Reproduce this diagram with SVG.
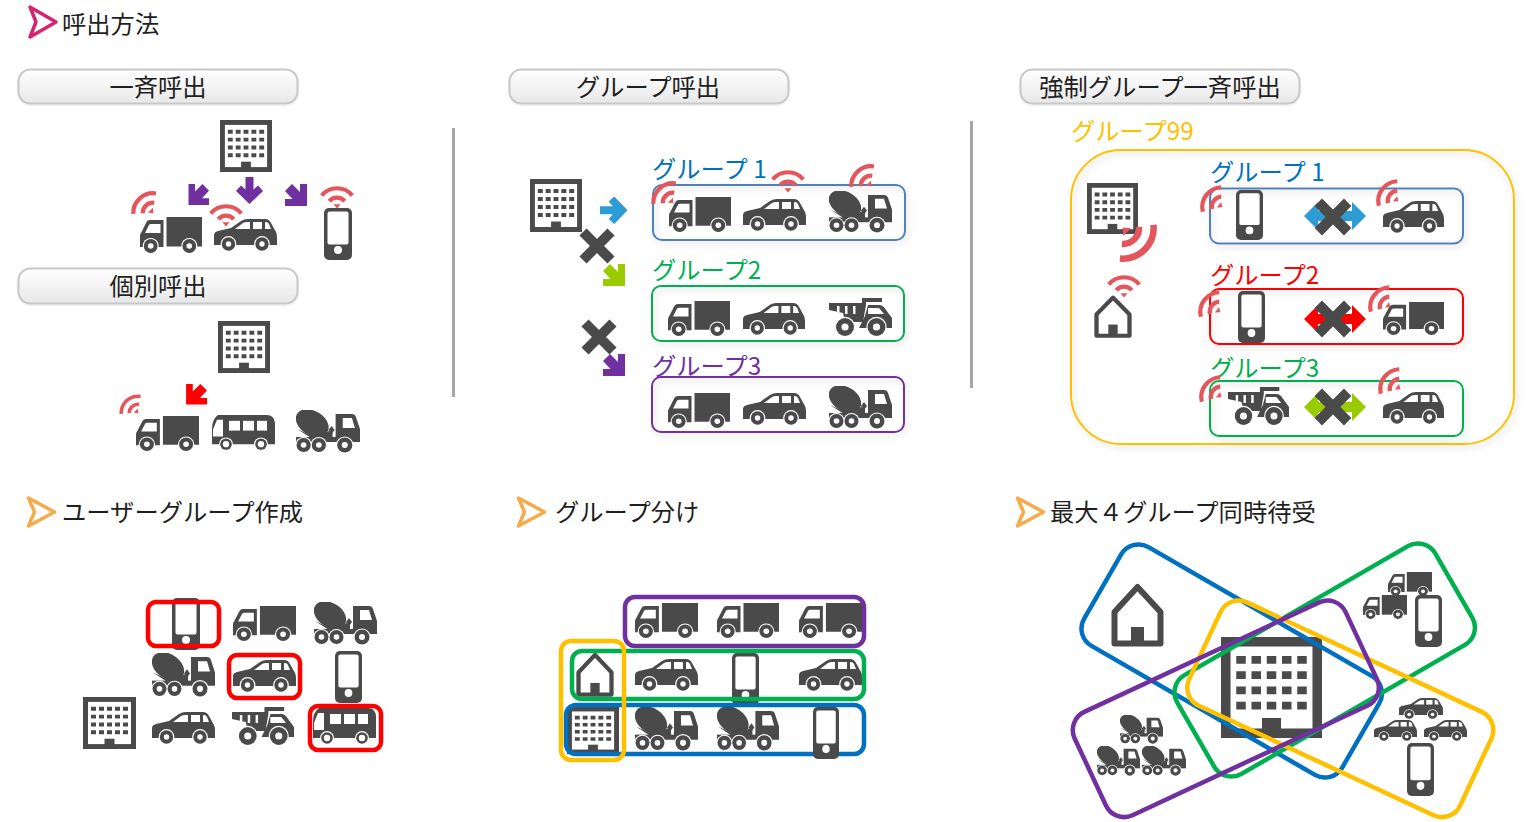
<svg xmlns="http://www.w3.org/2000/svg" width="1526" height="822" viewBox="0 0 1526 822">
<style>
text{font-family:"Noto Sans CJK JP","Noto Sans",sans-serif;font-size:24.3px;fill:#1f1f1f}
.d{fill:#4a4a4a}.w{fill:#fff}
.pill{fill:url(#pg);stroke:#c8c8c8;stroke-width:2;filter:url(#ps)}
.g{fill:none;stroke-width:2;filter:url(#sh)}
.t{fill:none;stroke-width:4.500}
.sep{stroke:#a6a6a6;stroke-width:3}
.chev{fill:none;stroke-width:3.500;stroke-linejoin:round}
.rf{fill:none;stroke:#e4565b;stroke-width:4.200}
.xx{stroke:#4a4a4a;stroke-width:10}
</style>
<defs>
<linearGradient id="pg" x1="0" y1="0" x2="0" y2="1"><stop offset="0" stop-color="#fff"/><stop offset="1" stop-color="#e8e8e8"/></linearGradient>
<filter id="sh" x="-10%" y="-20%" width="120%" height="150%"><feDropShadow dx="2" dy="3" stdDeviation="3" flood-color="#000" flood-opacity=".16"/></filter>
<filter id="ps" x="-5%" y="-20%" width="110%" height="150%"><feDropShadow dx="0" dy="1" stdDeviation="1" flood-color="#000" flood-opacity=".1"/></filter>
<symbol id="truck" viewBox="0 0 62 36" preserveAspectRatio="none">
<path class="d" d="M26.500 0H62V29.500H26.500Z"/><path class="d" d="M0 29V19Q0 17 1 16L6 6Q7 3 10 3H23.500V30H0Z"/><path class="w" d="M5 16L9 8Q9.500 7 11 7H20.500V16Z"/>
<circle class="w" cx="10.700" cy="29" r="8"/><circle class="w" cx="49.300" cy="29" r="8"/>
<circle class="d" cx="10.700" cy="29" r="6.900"/><circle class="d" cx="49.300" cy="29" r="6.900"/><circle class="w" cx="10.700" cy="29" r="2.800"/><circle class="w" cx="49.300" cy="29" r="2.800"/>
</symbol>
<symbol id="car" viewBox="0 0 63 32" preserveAspectRatio="none">
<path class="d" d="M0 25V16Q0 13 4 12L17 9L27 2Q30 0 34 0H51Q55 0 57 4L62 13Q63 15 63 18V26H0Z"/>
<path class="w" d="M21 10L29 4Q31 3 33 3H36V10Z"/><path class="w" d="M39 3H48V10H39Z"/><path class="w" d="M51 3H52Q54 3 55 5L57 10H51Z"/>
<circle class="w" cx="14.500" cy="25" r="7.900"/><circle class="w" cx="48" cy="25" r="7.900"/>
<circle class="d" cx="14.500" cy="25" r="6.700"/><circle class="d" cx="48" cy="25" r="6.700"/><circle class="w" cx="14.500" cy="25" r="2.700"/><circle class="w" cx="48" cy="25" r="2.700"/>
</symbol>
<symbol id="phone" viewBox="0 0 28 52" preserveAspectRatio="none">
<rect class="d" width="28" height="52" rx="5"/><rect class="w" x="3.500" y="3.500" width="21" height="33" rx="2"/><circle class="w" cx="14" cy="42" r="4"/>
</symbol>
<symbol id="bldg" viewBox="0 0 53 53" preserveAspectRatio="none">
<rect class="d" width="53" height="53"/><rect class="w" x="5" y="5" width="43" height="43"/>
<g class="d"><path d="M8 10h5v4h-5zM16 10h5v4h-5zM24 10h5v4h-5zM32 10h5v4h-5zM40 10h5v4h-5zM8 18h5v4h-5zM16 18h5v4h-5zM24 18h5v4h-5zM32 18h5v4h-5zM40 18h5v4h-5zM8 26h5v4h-5zM16 26h5v4h-5zM24 26h5v4h-5zM32 26h5v4h-5zM40 26h5v4h-5zM8 34h5v4h-5zM16 34h5v4h-5zM24 34h5v4h-5zM32 34h5v4h-5zM40 34h5v4h-5z"/></g>
<rect class="d" x="21.500" y="42.500" width="10" height="8"/>
</symbol>
<symbol id="mixer" viewBox="0 0 63 43" preserveAspectRatio="none">
<ellipse class="d" cx="16" cy="13" rx="17.500" ry="12" transform="rotate(32 16 13)"/>
<path class="d" d="M1 19L15 28H36V22L32 21L27 25L14 25Z"/>
<path class="d" d="M39 4H55Q58 4 59 7L63 19V30H39Z"/><path class="w" d="M46 8H55L58 18H46Z"/>
<path class="d" d="M35 16L38 20L35 24L32 20Z"/>
<rect class="d" x="0" y="27" width="63" height="5"/>
<circle class="w" cx="7.500" cy="35" r="8"/><circle class="w" cx="22.500" cy="35" r="8"/><circle class="w" cx="48" cy="35" r="8.600"/>
<circle class="d" cx="7.500" cy="35" r="7"/><circle class="d" cx="22.500" cy="35" r="7"/><circle class="d" cx="48" cy="35" r="7.500"/>
<circle class="w" cx="7.500" cy="35" r="2.800"/><circle class="w" cx="22.500" cy="35" r="2.800"/><circle class="w" cx="48" cy="35" r="3"/>
</symbol>
<symbol id="dump" viewBox="0 0 63 39" preserveAspectRatio="none">
<path class="d" d="M0 5H33V0H53V4H37V7L34 24L16 24L14 15L0 12Z"/><path class="w" d="M8 8h2.500v6h-2.500zM16 8h2.500v8h-2.500zM24 8h2.500v8h-2.500z"/>
<path class="d" d="M39 7H50Q54 7 57 12L63 20V30H30L36 18Z"/><path class="w" d="M39 10H50L55 16H39Z"/>
<circle class="w" cx="16" cy="29" r="10.200"/><circle class="w" cx="47.500" cy="29" r="10.200"/>
<circle class="d" cx="16" cy="29" r="9"/><circle class="d" cx="47.500" cy="29" r="9"/><circle class="w" cx="16" cy="29" r="3.600"/><circle class="w" cx="47.500" cy="29" r="3.600"/>
</symbol>
<symbol id="bus" viewBox="0 0 64 37" preserveAspectRatio="none">
<path class="d" d="M6 0H55Q62 0 63 8V30H0V14Q0 4 6 0Z"/>
<path class="w" d="M5 5H11V22H1V15Z"/><rect class="w" x="17" y="6" width="11" height="10"/><rect class="w" x="31" y="6" width="11" height="10"/><rect class="w" x="45" y="6" width="10" height="10"/>
<circle class="w" cx="14" cy="30" r="7"/><circle class="w" cx="49" cy="30" r="7"/><circle class="d" cx="14" cy="30" r="5.800"/><circle class="d" cx="49" cy="30" r="5.800"/><circle class="w" cx="14" cy="30" r="3.200"/><circle class="w" cx="49" cy="30" r="3.200"/>
</symbol>
<symbol id="house" viewBox="0 0 53 64" preserveAspectRatio="none">
<path d="M3.500 29L26.500 4L49.500 29V60.500H3.500Z" fill="#fff" stroke="#4a4a4a" stroke-width="6" stroke-linejoin="round"/><rect class="d" x="20" y="44" width="13" height="18"/>
</symbol>
<g id="wifi"><path class="rf" d="M-15.300 -12.500A19.800 19.800 0 0 1 15.300 -12.500"/><path class="rf" d="M-7.800 -6.800A10.400 10.400 0 0 1 7.800 -6.800"/><path fill="#e4565b" d="M-3.500 -3.800H3.500L0 0.500Z"/></g>
<polygon id="diag" points="22,0 22,22 0,22 0,15 7.500,15 0,7 7,0 15,8 15,0"/>
<polygon id="down" points="9.500,0 17.500,0 17.500,12.500 22,8.500 27,14 13.500,27 0,14 5,8.500 9.500,12.500"/>
<polygon id="dbl" points="0,14 14,0 14,9 48,9 48,0 62,14 48,28 48,19 14,19 14,28"/>
<g id="x"><path class="xx" d="M-14 -14L14 14M14 -14L-14 14"/></g>
</defs>

<g id="heading-main"><polygon class="chev" stroke="#d6246e" points="30,7 56,22 30,37 36,22"/><text x="62" y="33">呼出方法</text></g>

<g id="btn-all"><rect class="pill" x="18.500" y="69.500" width="279" height="34" rx="12"/><text x="158" y="96" text-anchor="middle">一斉呼出</text></g>
<g id="btn-group"><rect class="pill" x="509.500" y="69.500" width="279" height="34" rx="12"/><text x="648" y="96" text-anchor="middle">グループ呼出</text></g>
<g id="btn-force"><rect class="pill" x="1020.500" y="69.500" width="279" height="34" rx="12"/><text x="1160" y="96" text-anchor="middle">強制グループ一斉呼出</text></g>
<g id="btn-single"><rect class="pill" x="18.500" y="268.500" width="279" height="35" rx="12"/><text x="158" y="295" text-anchor="middle">個別呼出</text></g>

<line class="sep" x1="453.500" y1="128" x2="453.500" y2="397"/>
<line class="sep" x1="971.500" y1="121" x2="971.500" y2="388"/>

<g id="connectors">
<use href="#diag" fill="#7030a0" transform="translate(209,184) scale(-.93,.95)"/>
<use href="#down" fill="#7030a0" x="236" y="177"/>
<use href="#diag" fill="#7030a0" x="285" y="184"/>
<use href="#diag" fill="#ff0000" transform="translate(207,384) scale(-.95,.93)"/>
<use href="#down" fill="#2e9cd4" transform="translate(600,224) rotate(-90) scale(1.02)"/>
<use href="#diag" fill="#99cc00" x="603" y="264"/>
<use href="#diag" fill="#7030a0" x="603" y="354"/>
<use href="#x" transform="translate(597,246)"/>
<use href="#x" transform="translate(599,337)"/>
<use href="#dbl" fill="#2e9cd4" x="1304" y="202"/>
<use href="#dbl" fill="#ff0000" x="1304" y="305"/>
<use href="#dbl" fill="#99cc00" x="1304" y="393"/>
<use href="#x" transform="translate(1333,217) scale(1.05)"/>
<use href="#x" transform="translate(1333,319) scale(1.05)"/>
<use href="#x" transform="translate(1333,407) scale(1.05)"/>
</g>

<g id="call-all">
<use href="#bldg" x="220" y="120" width="52" height="52"/>
<use href="#truck" x="140" y="217" width="62" height="36"/>
<use href="#car" x="214" y="219" width="63" height="32"/>
<use href="#phone" x="324" y="208" width="28" height="52"/>
<use href="#wifi" transform="translate(153,213) rotate(-42)"/>
<use href="#wifi" transform="translate(226,226)"/>
<use href="#wifi" transform="translate(337,208)"/>
</g>
<g id="call-single">
<use href="#bldg" x="218" y="321" width="52" height="52"/>
<use href="#truck" x="136" y="416" width="63" height="35"/>
<use href="#bus" x="212" y="415" width="64" height="36"/>
<use href="#mixer" x="296" y="410" width="64" height="43"/>
<use href="#wifi" transform="translate(138,413) rotate(-42) scale(.85)"/>
</g>

<g id="call-group">
<use href="#bldg" x="530" y="179" width="52" height="53"/>
<g id="mid-group-1"><rect class="g" x="653" y="185" width="252" height="55" rx="9" stroke="#4f81bd"/>
<text x="652" y="178" style="fill:#0070c0">グループ 1</text>
<use href="#truck" x="669" y="197" width="62" height="35"/><use href="#car" x="743" y="199" width="63" height="32"/><use href="#mixer" x="829" y="191" width="63" height="42"/>
<use href="#wifi" transform="translate(673,203) rotate(-42)"/><use href="#wifi" transform="translate(788,192)"/><use href="#wifi" transform="translate(871,186) rotate(-42)"/></g>
<g id="mid-group-2"><rect class="g" x="652" y="286" width="252" height="55" rx="9" stroke="#00b050"/>
<text x="652" y="279" style="fill:#00b050">グループ2</text>
<use href="#truck" x="668" y="301" width="62" height="35"/><use href="#car" x="743" y="303" width="62" height="32"/><use href="#dump" x="829" y="298" width="63" height="39"/></g>
<g id="mid-group-3"><rect class="g" x="652" y="377" width="252" height="55" rx="9" stroke="#7030a0"/>
<text x="652" y="375" style="fill:#7030a0">グループ3</text>
<use href="#truck" x="668" y="393" width="62" height="35"/><use href="#car" x="743" y="393" width="63" height="32"/><use href="#mixer" x="829" y="386" width="63" height="43"/></g>
</g>

<g id="call-force">
<rect class="g" x="1071" y="150" width="443" height="294" rx="50" stroke="#ffc000"/>
<text x="1071" y="140" style="fill:#ffc000">グループ99</text>
<use href="#bldg" x="1087" y="183" width="51" height="51"/>
<use href="#wifi" transform="translate(1123,228) rotate(135) scale(1.55)"/>
<use href="#house" x="1094" y="295" width="38" height="43"/>
<use href="#wifi" transform="translate(1124,297)"/>
<g id="force-group-1"><rect class="g" x="1210" y="188.500" width="253" height="55" rx="9" stroke="#4f81bd"/>
<text x="1210" y="181" style="fill:#0070c0">グループ 1</text>
<use href="#phone" x="1236" y="190" width="27" height="50"/><use href="#car" x="1383" y="201" width="61" height="32"/>
<use href="#wifi" transform="translate(1222,207) rotate(-53)"/><use href="#wifi" transform="translate(1398,201) rotate(-53)"/></g>
<g id="force-group-2"><rect class="g" x="1210" y="289" width="253" height="55" rx="9" stroke="#ff0000"/>
<text x="1210" y="284" style="fill:#ff0000">グループ2</text>
<use href="#phone" x="1238" y="291" width="27" height="52"/><use href="#truck" x="1383" y="302" width="61" height="33"/>
<use href="#wifi" transform="translate(1220,312) rotate(-53)"/><use href="#wifi" transform="translate(1390,307) rotate(-53)"/></g>
<g id="force-group-3"><rect class="g" x="1210" y="381" width="253" height="55" rx="9" stroke="#00b050"/>
<text x="1210" y="377" style="fill:#00b050">グループ3</text>
<use href="#dump" x="1228" y="387" width="61" height="39"/><use href="#car" x="1383" y="392" width="61" height="32"/>
<use href="#wifi" transform="translate(1221,397) rotate(-53)"/><use href="#wifi" transform="translate(1400,389) rotate(-53)"/></g>
</g>

<g id="heading-user"><polygon class="chev" stroke="#f5ab4a" points="28.500,498 54.500,512 28.500,526 34.500,512"/><text x="62" y="521">ユーザーグループ作成</text></g>
<g id="heading-split"><polygon class="chev" stroke="#f5ab4a" points="518.500,498 544.500,512 518.500,526 524.500,512"/><text x="555" y="521">グループ分け</text></g>
<g id="heading-four"><polygon class="chev" stroke="#f5ab4a" points="1017.500,498 1043.500,512 1017.500,526 1023.500,512"/><text x="1050" y="521">最大４グループ同時待受</text></g>

<g id="user-group">
<use href="#phone" x="172" y="598" width="28" height="52"/>
<use href="#truck" x="233" y="606" width="63" height="35"/>
<use href="#mixer" x="314" y="602" width="63" height="43"/>
<use href="#mixer" x="152" y="653" width="63" height="44"/>
<use href="#car" x="233" y="660" width="63" height="32"/>
<use href="#phone" x="335" y="651" width="27" height="52"/>
<use href="#bldg" x="83" y="697" width="53" height="52"/>
<use href="#car" x="152" y="712" width="63" height="32"/>
<use href="#dump" x="232" y="707" width="62" height="39"/>
<use href="#bus" x="313" y="708" width="64" height="37"/>
<rect class="t" x="148" y="602" width="71" height="44" rx="8" stroke="#ff0000"/>
<rect class="t" x="229" y="655" width="71" height="43" rx="8" stroke="#ff0000"/>
<rect class="t" x="310" y="706" width="71" height="44" rx="8" stroke="#ff0000"/>
</g>

<g id="group-split">
<use href="#truck" x="635" y="603" width="63" height="35"/><use href="#truck" x="717" y="603" width="62" height="35"/><use href="#truck" x="799" y="603" width="63" height="35"/>
<use href="#house" x="576" y="652" width="38" height="45"/>
<use href="#car" x="635" y="659" width="63" height="32"/><use href="#phone" x="732" y="653" width="27" height="52"/><use href="#car" x="799" y="659" width="63" height="32"/>
<use href="#bldg" x="567" y="707" width="52" height="47"/>
<use href="#mixer" x="635" y="707" width="63" height="44"/><use href="#mixer" x="717" y="707" width="62" height="44"/>
<rect class="t" x="625" y="597" width="239" height="49" rx="10" stroke="#7030a0"/>
<rect class="t" x="572" y="651" width="292" height="48" rx="10" stroke="#00b050"/>
<rect class="t" x="566" y="705" width="298" height="49" rx="10" stroke="#0070c0"/>
<use href="#phone" x="813" y="707" width="26" height="52"/>
<rect class="t" x="561" y="641" width="63" height="119" rx="10" stroke="#ffc000"/>
</g>

<g id="four-groups">
<use href="#bldg" x="1221" y="637" width="101" height="101"/>
<use href="#house" x="1111" y="583" width="53" height="64"/>
<use href="#truck" x="1388" y="572" width="44" height="24"/><use href="#truck" x="1363" y="595" width="44" height="24"/><use href="#phone" x="1415" y="595" width="27" height="52"/>
<use href="#mixer" x="1120" y="715" width="43" height="29"/><use href="#mixer" x="1097" y="746" width="43" height="30"/><use href="#mixer" x="1142" y="746" width="44" height="30"/>
<use href="#car" x="1399" y="698" width="44" height="21"/><use href="#car" x="1374" y="720" width="43" height="21"/><use href="#car" x="1424" y="720" width="43" height="21"/><use href="#phone" x="1407" y="743" width="27" height="53"/>
<rect class="t" x="-149" y="-57" width="298" height="114" rx="20" stroke="#0070c0" transform="translate(1231.700,661) rotate(30)"/>
<rect class="t" x="-149" y="-57" width="298" height="114" rx="20" stroke="#00b050" transform="translate(1324.700,660) rotate(-30)"/>
<rect class="t" x="-149.500" y="-57" width="299" height="114" rx="20" stroke="#ffc000" transform="translate(1340.300,708.800) rotate(25)"/>
<rect class="t" x="-149.500" y="-57" width="299" height="114" rx="20" stroke="#7030a0" transform="translate(1225.800,708.800) rotate(-25)"/>
</g>
</svg>
